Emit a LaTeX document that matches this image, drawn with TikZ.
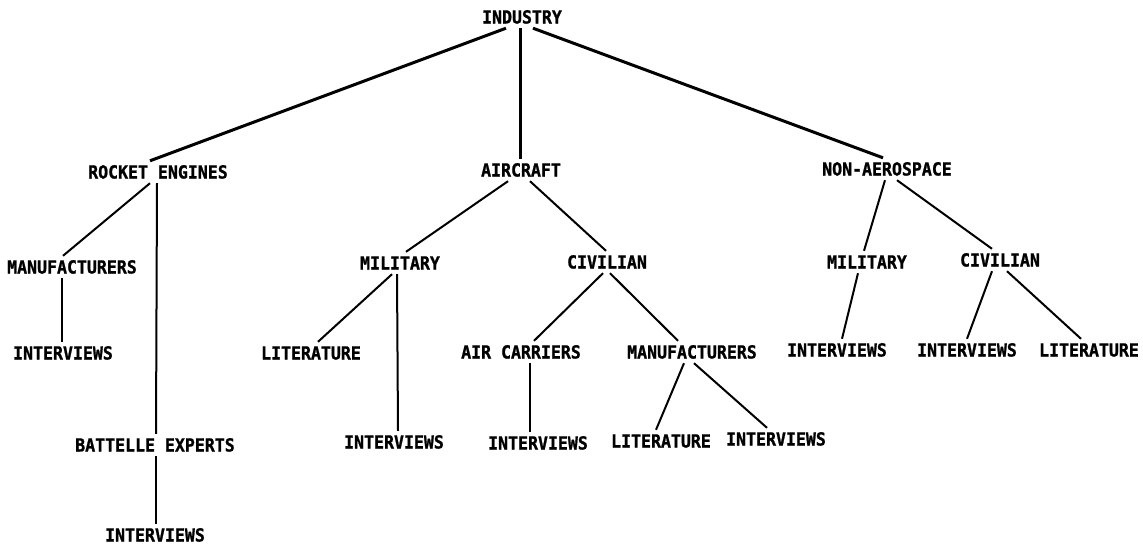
\documentclass[tikz,border=0pt]{standalone}
\usepackage{fontspec}
\newfontfamily\lblfont[FakeStretch=0.92,FakeBold=1.2]{DejaVu Sans Mono}
\tikzset{
  lbl/.style={font=\lblfont\bfseries\fontsize{18}{20}\selectfont, inner xsep=0pt, inner ysep=4.5pt,
              text height=13pt, text depth=0pt, anchor=center},
  top/.style={line width=3pt},
  br/.style={line width=2pt},
}
\begin{document}
\begin{tikzpicture}[x=1pt,y=-1pt]
\useasboundingbox[fill=white] (0,0) rectangle (1143,544);
% nodes
\node[lbl] (ind)  at (522,17)  {INDUSTRY};
\node[lbl] (rock) at (158,172) {ROCKET ENGINES};
\node[lbl] (air)  at (521,170) {AIRCRAFT};
\node[lbl] (nona) at (887,169) {NON-AEROSPACE};
\node[lbl] (manl) at (72,267)  {MANUFACTURERS};
\node[lbl] (intl) at (63,353)  {INTERVIEWS};
\node[lbl] (batt) at (155,445) {BATTELLE EXPERTS};
\node[lbl] (intb) at (155,535) {INTERVIEWS};
\node[lbl] (milA) at (400,263) {MILITARY};
\node[lbl] (litA) at (311,353) {LITERATURE};
\node[lbl] (intA) at (394,442) {INTERVIEWS};
\node[lbl] (civA) at (607,262) {CIVILIAN};
\node[lbl] (airc) at (521,352) {AIR CARRIERS};
\node[lbl] (intC) at (538,443) {INTERVIEWS};
\node[lbl] (manC) at (692,352) {MANUFACTURERS};
\node[lbl] (litM) at (661,441) {LITERATURE};
\node[lbl] (intM) at (776,439) {INTERVIEWS};
\node[lbl] (milN) at (867,262) {MILITARY};
\node[lbl] (civN) at (1000,260) {CIVILIAN};
\node[lbl] (intN1) at (837,350) {INTERVIEWS};
\node[lbl] (intN2) at (967,350) {INTERVIEWS};
\node[lbl] (litN) at (1089,350) {LITERATURE};
% connectors
\draw[top] ([xshift=-16pt]ind.south) -- ([xshift=-8pt]rock.north);
\draw[top] ([xshift=-2pt]ind.south) -- ([xshift=-1pt]air.north);
\draw[top] ([xshift=11pt]ind.south) -- ([xshift=-4pt]nona.north);
\draw[br] ([xshift=-8pt]rock.south) -- ([xshift=-9pt]manl.north);
\draw[br] ([xshift=-1pt]rock.south) -- ([xshift=1pt]batt.north);
\draw[br] ([xshift=-10pt]manl.south) -- ([xshift=-1pt]intl.north);
\draw[br] ([xshift=1pt]batt.south) -- ([xshift=1pt]intb.north);
\draw[br] ([xshift=-13pt]air.south) -- ([xshift=6pt]milA.north);
\draw[br] ([xshift=9pt]air.south) -- ([xshift=-1pt]civA.north);
\draw[br] ([xshift=-8pt]milA.south) -- ([xshift=7pt]litA.north);
\draw[br] ([xshift=-3pt]milA.south) -- ([xshift=4pt]intA.north);
\draw[br] ([xshift=-4pt]civA.south) -- ([xshift=13pt]airc.north);
\draw[br] ([xshift=3pt]civA.south) -- ([xshift=-14pt]manC.north);
\draw[br] ([xshift=9pt]airc.south) -- ([xshift=-8pt]intC.north);
\draw[br] ([xshift=-8pt]manC.south) -- ([xshift=-5pt]litM.north);
\draw[br] ([xshift=2pt]manC.south) -- ([xshift=-9pt]intM.north);
\draw[br] ([xshift=-2pt]nona.south) -- ([xshift=-3pt]milN.north);
\draw[br] ([xshift=10pt]nona.south) -- ([xshift=-8pt]civN.north);
\draw[br] ([xshift=-9pt]milN.south) -- ([xshift=5pt]intN1.north);
\draw[br] ([xshift=-8pt]civN.south) -- ([xshift=0pt]intN2.north);
\draw[br] ([xshift=7pt]civN.south) -- ([xshift=-8pt]litN.north);
\end{tikzpicture}
\end{document}
